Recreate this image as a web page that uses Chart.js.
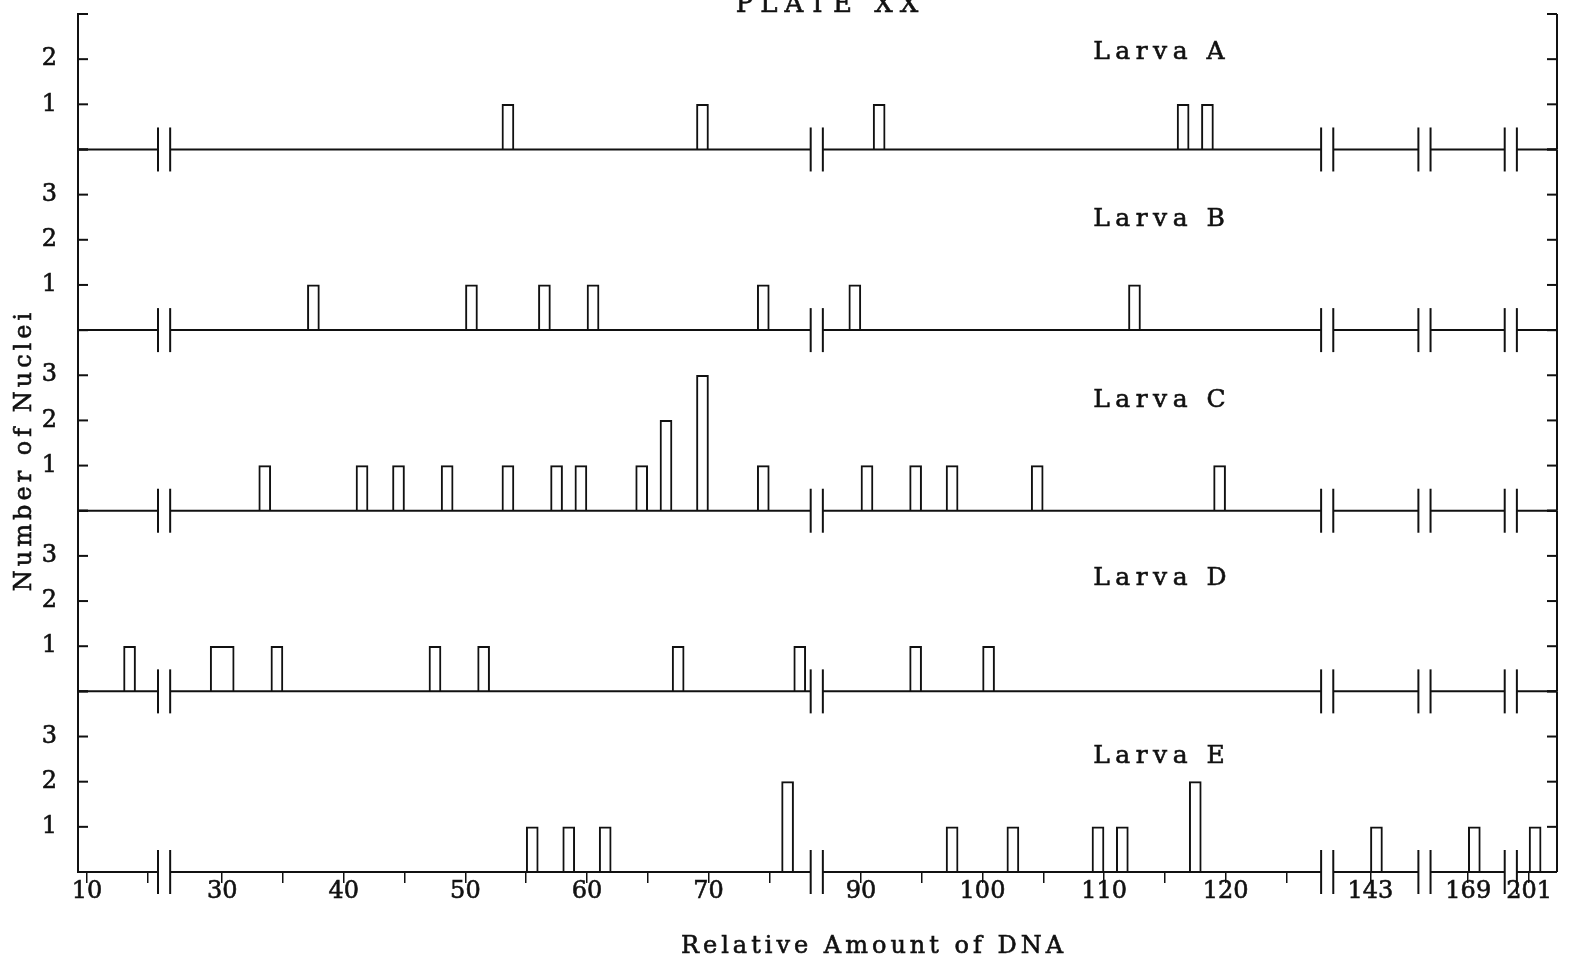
<!DOCTYPE html>
<html>
<head>
<meta charset="utf-8">
<title>Plate XX</title>
<script src="https://cdn.jsdelivr.net/npm/chart.js@4.4.1/dist/chart.umd.min.js"></script>
<style>
  html, body { margin: 0; padding: 0; background: #fff; }
  canvas { display: block; }
</style>
</head>
<body>
<canvas id="plate" width="1574" height="966"></canvas>
<script>
// counts of nuclei per 1-unit DNA class (bin = lower edge)
const binsA = [53, 69, 91, 116, 118];
const countsA = [1, 1, 1, 1, 1];

const binsB = [37, 50, 56, 60, 74, 89, 112];
const countsB = [1, 1, 1, 1, 1, 1, 1];

const binsC = [33, 41, 44, 48, 53, 57, 59, 64, 66, 69, 74, 90, 94, 97, 104, 119];
const countsC = [1, 1, 1, 1, 1, 1, 1, 1, 2, 3, 1, 1, 1, 1, 1, 1];

const binsD = [13, 34, 47, 51, 67, 77, 94, 100];
const countsD = [1, 1, 1, 1, 1, 1, 1, 1];
// one wider class in larva D (29 - 31)
const wideBinsD = [29];
const wideCountsD = [1];

const binsE = [55, 58, 61, 76, 97, 102, 109, 111, 117, 143, 169, 201];
const countsE = [1, 1, 1, 2, 1, 1, 1, 1, 2, 1, 1, 1];

const larvaNames = ['Larva A', 'Larva B', 'Larva C', 'Larva D', 'Larva E'];
const panelMax = [3, 4, 4, 4, 4];

// x ticks (real DNA values); minor ones carry no label
const xTickValues = [10, 15, 30, 35, 40, 45, 50, 55, 60, 65, 70, 75, 90, 95, 100, 105, 110, 115, 120, 125, 143, 169, 201];
const xTickLabels = ['10', '', '30', '', '40', '', '50', '', '60', '', '70', '', '90', '', '100', '', '110', '', '120', '', '143', '169', '201'];

// the broken DNA axis: shown pieces, with a gap between each
const axisPieces = [[9.26, 15.84], [25.72, 78.4], [86.87, 127.85], [139.95, 146.95], [165.9, 172.0], [200.0, 203.3]];
const GAP = 1.0;

const INK = '#111';
const FONT = 'DejaVu Serif';
const TEXT_STROKE = 0.6;

function toAxis(v) {
  let off = 0;
  for (const [a, b] of axisPieces) {
    if (v <= b) return off + Math.max(v, a) - a;
    off += (b - a) + GAP;
  }
  return off - GAP;
}
const axisLength = toAxis(1e9);

// break marks sit at the end of one piece and the start of the next
const breaks = [];
for (let i = 0; i < axisPieces.length - 1; i++) {
  breaks.push([toAxis(axisPieces[i][1]), toAxis(axisPieces[i + 1][0])]);
}

const panels = [
  { id: 'yA', bins: binsA, counts: countsA },
  { id: 'yB', bins: binsB, counts: countsB },
  { id: 'yC', bins: binsC, counts: countsC },
  { id: 'yD', bins: binsD, counts: countsD },
  { id: 'yE', bins: binsE, counts: countsE }
];
const labelLevel = [2.15, 2.45, 2.45, 2.5, 2.55];

function barSet(label, yId, bins, counts, width, thick) {
  return {
    label: label,
    yAxisID: yId,
    stack: 'one',
    data: bins.map((b, i) => ({ x: toAxis(b + width / 2), y: counts[i] })),
    backgroundColor: '#fff',
    borderColor: INK,
    borderWidth: 2,
    borderSkipped: 'bottom',
    barThickness: thick
  };
}

const datasets = panels.map((p, i) => barSet(larvaNames[i], p.id, p.bins, p.counts, 1, 12));
datasets.push(barSet('Larva D (29-31)', 'yD', wideBinsD, wideCountsD, 2, 24));

function yScale(max) {
  return {
    type: 'linear',
    position: 'left',
    stack: 'plate',
    stackWeight: max,
    stacked: false,
    min: 0,
    max: max,
    offset: false,
    grid: { display: false, drawTicks: false },
    border: { display: true, color: INK, width: 2 },
    ticks: {
      stepSize: 1,
      autoSkip: false,
      padding: 21,
      color: INK,
      textStrokeColor: INK,
      textStrokeWidth: TEXT_STROKE,
      font: { family: FONT, size: 24 },
      callback: v => (v > 0 && v < max) ? String(v) : ''
    },
    afterFit: s => { s.width = 58; s.paddingTop = 0; s.paddingBottom = 0; }
  };
}

function spacedText(ctx, text, x, y, spacing, align) {
  ctx.letterSpacing = spacing + 'px';
  const w = ctx.measureText(text).width - spacing;
  let sx = x;
  if (align === 'center') sx = x - w / 2;
  ctx.textAlign = 'left';
  ctx.lineWidth = TEXT_STROKE;
  ctx.strokeStyle = INK;
  ctx.fillText(text, sx, y);
  ctx.strokeText(text, sx, y);
  ctx.letterSpacing = '0px';
}

function seg(ctx, x1, y1, x2, y2) {
  ctx.beginPath();
  ctx.moveTo(x1, y1);
  ctx.lineTo(x2, y2);
  ctx.stroke();
}

const platePlugin = {
  id: 'plate',
  afterDatasetsDraw(chart) {
    const { ctx, chartArea: area, scales } = chart;
    const xs = scales.x;
    ctx.save();

    panels.forEach((p, i) => {
      const ys = scales[p.id];
      ctx.strokeStyle = INK;
      ctx.lineWidth = 2;
      // right-hand frame
      seg(ctx, area.right, ys.top, area.right, ys.bottom);
      for (let v = 0; v <= panelMax[i]; v++) {
        const y = ys.getPixelForValue(v);
        seg(ctx, area.left, y, area.left + 10, y);
        seg(ctx, area.right - 10, y, area.right, y);
      }
      const y0 = ys.getPixelForValue(0);
      let start = area.left;
      breaks.forEach(([l, r]) => {
        const pl = xs.getPixelForValue(l);
        const pr = xs.getPixelForValue(r);
        seg(ctx, start, y0, pl, y0);
        seg(ctx, pl, y0 - 22, pl, y0 + 22);
        seg(ctx, pr, y0 - 22, pr, y0 + 22);
        start = pr;
      });
      seg(ctx, start, y0, area.right, y0);

      ctx.fillStyle = INK;
      ctx.font = '25px "' + FONT + '"';
      ctx.textBaseline = 'middle';
      spacedText(ctx, larvaNames[i], xs.getPixelForValue(toAxis(109.1)), ys.getPixelForValue(labelLevel[i]), 5.5, 'left');
    });
    ctx.restore();
  },
  afterDraw(chart) {
    const { ctx, chartArea: area } = chart;
    ctx.save();
    ctx.fillStyle = INK;
    ctx.font = '26px "' + FONT + '"';
    ctx.textBaseline = 'alphabetic';
    spacedText(ctx, 'PLATE XX', 827, 12, 7, 'center');

    ctx.font = '24px "' + FONT + '"';
    ctx.textBaseline = 'middle';
    spacedText(ctx, 'Relative Amount of DNA', 872, area.bottom + 75, 4, 'center');

    ctx.translate(25, 452);
    ctx.rotate(-Math.PI / 2);
    spacedText(ctx, 'Number of Nuclei', 0, 0, 4, 'center');
    ctx.restore();
  }
};

const scales = {
  x: {
    type: 'linear',
    min: 0,
    max: axisLength,
    offset: false,
    grid: { offset: false, drawOnChartArea: false, drawTicks: true, tickLength: 11, color: INK, lineWidth: 1.5 },
    border: { display: false },
    ticks: {
      autoSkip: false,
      maxRotation: 0,
      padding: -6,
      color: INK,
      textStrokeColor: INK,
      textStrokeWidth: TEXT_STROKE,
      font: { family: FONT, size: 24 },
      callback: (v, i) => xTickLabels[i]
    },
    afterBuildTicks: s => { s.ticks = xTickValues.map(v => ({ value: toAxis(v) })); },
    afterFit: s => { s.height = 94; s.paddingLeft = 0; s.paddingRight = 0; }
  }
};
// stacked left scales are placed top-down in reverse order of definition
for (let i = panels.length - 1; i >= 0; i--) {
  scales[panels[i].id] = yScale(panelMax[i]);
}

const chart = new Chart(document.getElementById('plate').getContext('2d'), {
  type: 'bar',
  data: { datasets: datasets },
  options: {
    responsive: false,
    animation: false,
    devicePixelRatio: 1,
    layout: { padding: { top: 14, left: 20, right: 17, bottom: 0 } },
    plugins: {
      legend: { display: false },
      tooltip: { enabled: false },
      title: { display: false }
    },
    scales: scales
  },
  plugins: [platePlugin]
});
</script>
</body>
</html>
